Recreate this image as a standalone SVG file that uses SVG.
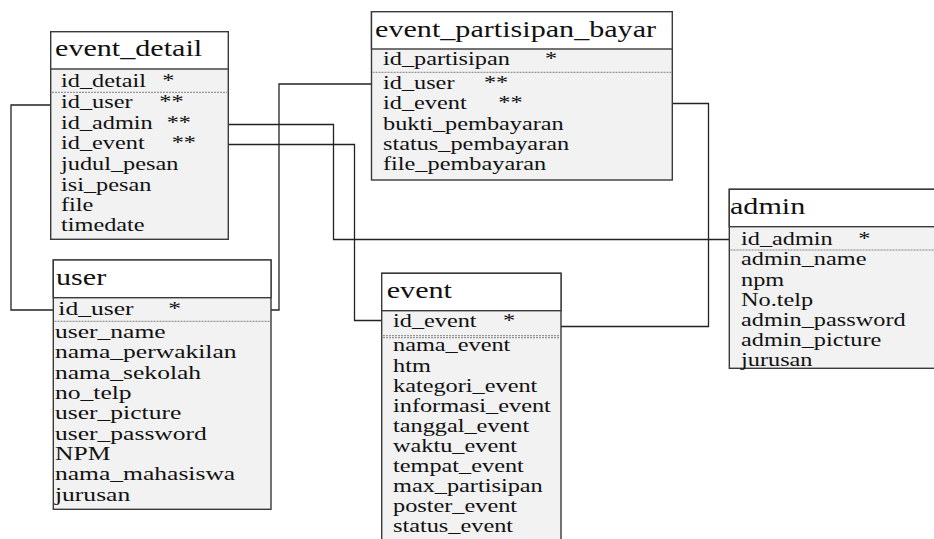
<svg xmlns="http://www.w3.org/2000/svg" width="934" height="539" viewBox="0 0 934 539">
<style>
.box{fill:#f2f2f2;stroke:#3a3a3a;stroke-width:1.4}
.head{fill:#ffffff;stroke:#3a3a3a;stroke-width:1.4}
.sep{stroke:#808080;stroke-width:1;stroke-dasharray:2 1;fill:none}
.t{font-family:"Liberation Serif","Times New Roman",serif;font-size:23px;fill:#111}
.f{font-family:"Liberation Serif","Times New Roman",serif;font-size:18px;fill:#111}
.conn{fill:none;stroke:#222;stroke-width:1.3}
</style>
<rect width="934" height="539" fill="#ffffff"/>
<g id="connectors">
<polyline class="conn" points="53,105 11,105 11,310 55,310"/>
<polyline class="conn" points="268,310 279,310 279,84 373,84"/>
<polyline class="conn" points="226,124.5 333.5,124.5 333.5,239.5 731.5,239.5"/>
<polyline class="conn" points="226,144.5 354.5,144.5 354.5,320.5 383,320.5"/>
<polyline class="conn" points="670,103.5 708.5,103.5 708.5,326.5 559,326.5"/>
</g>
<g id="event_detail">
<rect class="box" x="50.7" y="31.7" width="177.6" height="207.6"/>
<rect class="head" x="50.7" y="31.7" width="177.6" height="37.3"/>
<line class="sep" x1="52" y1="92.3" x2="227" y2="92.3"/>
<g transform="scale(1.31 1)"><text class="t" x="42" y="56.5">event_detail</text></g>
<g transform="scale(1.35 1)">
<text class="f" x="45.2" y="87">id_detail</text><text class="f" x="120.2" y="87">*</text>
<text class="f" x="45.2" y="108">id_user</text><text class="f" x="118" y="108">**</text>
<text class="f" x="45.2" y="129">id_admin</text><text class="f" x="123.5" y="129">**</text>
<text class="f" x="45.2" y="149.5">id_event</text><text class="f" x="127.2" y="149.5">**</text>
<text class="f" x="45.2" y="170">judul_pesan</text>
<text class="f" x="45.2" y="190.6">isi_pesan</text>
<text class="f" x="45.2" y="211">file</text>
<text class="f" x="45.2" y="231.5">timedate</text>
</g>
</g>
<g id="user">
<rect class="box" x="53.3" y="260" width="217.7" height="249.3"/>
<rect class="head" x="53.3" y="260" width="217.7" height="37.7"/>
<line class="sep" x1="54.5" y1="321.3" x2="270" y2="321.3"/>
<g transform="scale(1.31 1)"><text class="t" x="42.75" y="285.2">user</text></g>
<g transform="scale(1.42 1)">
<text class="f" x="41.06" y="315">id_user</text><text class="f" x="118.5" y="315">*</text>
<text class="f" x="38.73" y="338.3">user_name</text>
<text class="f" x="38.73" y="358.5">nama_perwakilan</text>
<text class="f" x="38.73" y="378.8">nama_sekolah</text>
<text class="f" x="38.73" y="399">no_telp</text>
<text class="f" x="38.73" y="419.3">user_picture</text>
<text class="f" x="38.73" y="439.6">user_password</text>
<text class="f" x="38.73" y="460">NPM</text>
<text class="f" x="38.73" y="480.3">nama_mahasiswa</text>
<text class="f" x="38.73" y="500.6">jurusan</text>
</g>
</g>
<g id="event_partisipan_bayar">
<rect class="box" x="371.5" y="11.7" width="300.8" height="168.3"/>
<rect class="head" x="371.5" y="11.7" width="300.8" height="37.3"/>
<line class="sep" x1="372.5" y1="72.3" x2="671" y2="72.3"/>
<g transform="scale(1.31 1)"><text class="t" x="286.3" y="36.7">event_partisipan_bayar</text></g>
<g transform="scale(1.35 1)">
<text class="f" x="283.7" y="65">id_partisipan</text><text class="f" x="403.7" y="65">*</text>
<text class="f" x="283.7" y="89.3">id_user</text><text class="f" x="358.5" y="89.3">**</text>
<text class="f" x="283.7" y="109.3">id_event</text><text class="f" x="369.1" y="109.3">**</text>
<text class="f" x="283.7" y="129.8">bukti_pembayaran</text>
<text class="f" x="283.7" y="150.2">status_pembayaran</text>
<text class="f" x="283.7" y="170.5">file_pembayaran</text>
</g>
</g>
<g id="event">
<rect class="box" x="381.7" y="273.3" width="179.3" height="280"/>
<rect class="head" x="381.7" y="273.3" width="179.3" height="37.4"/>
<line class="sep" x1="383" y1="335.7" x2="560" y2="335.7"/>
<line class="sep" x1="383" y1="337.7" x2="560" y2="337.7"/>
<g transform="scale(1.31 1)"><text class="t" x="295.2" y="298.3">event</text></g>
<g transform="scale(1.35 1)">
<text class="f" x="291.1" y="326.7">id_event</text><text class="f" x="372.6" y="326.7">*</text>
<text class="f" x="291.1" y="351.5">nama_event</text>
<text class="f" x="291.1" y="371.6">htm</text>
<text class="f" x="291.1" y="391.7">kategori_event</text>
<text class="f" x="291.1" y="411.8">informasi_event</text>
<text class="f" x="291.1" y="431.9">tanggal_event</text>
<text class="f" x="291.1" y="452">waktu_event</text>
<text class="f" x="291.1" y="472.1">tempat_event</text>
<text class="f" x="291.1" y="492.2">max_partisipan</text>
<text class="f" x="291.1" y="512.3">poster_event</text>
<text class="f" x="291.1" y="532.4">status_event</text>
</g>
</g>
<g id="admin">
<rect class="box" x="729.3" y="189.3" width="215" height="179"/>
<rect class="head" x="729.3" y="189.3" width="215" height="37.4"/>
<line class="sep" x1="730.5" y1="250" x2="934" y2="250"/>
<g transform="scale(1.31 1)"><text class="t" x="557.25" y="214.2">admin</text></g>
<g transform="scale(1.35 1)">
<text class="f" x="548.9" y="245">id_admin</text><text class="f" x="635.8" y="245">*</text>
<text class="f" x="548.9" y="265.5">admin_name</text>
<text class="f" x="548.9" y="285.7">npm</text>
<text class="f" x="548.9" y="305.9">No.telp</text>
<text class="f" x="548.9" y="326.1">admin_password</text>
<text class="f" x="548.9" y="346.3">admin_picture</text>
<text class="f" x="548.9" y="366.3">jurusan</text>
</g>
</g>
</svg>
